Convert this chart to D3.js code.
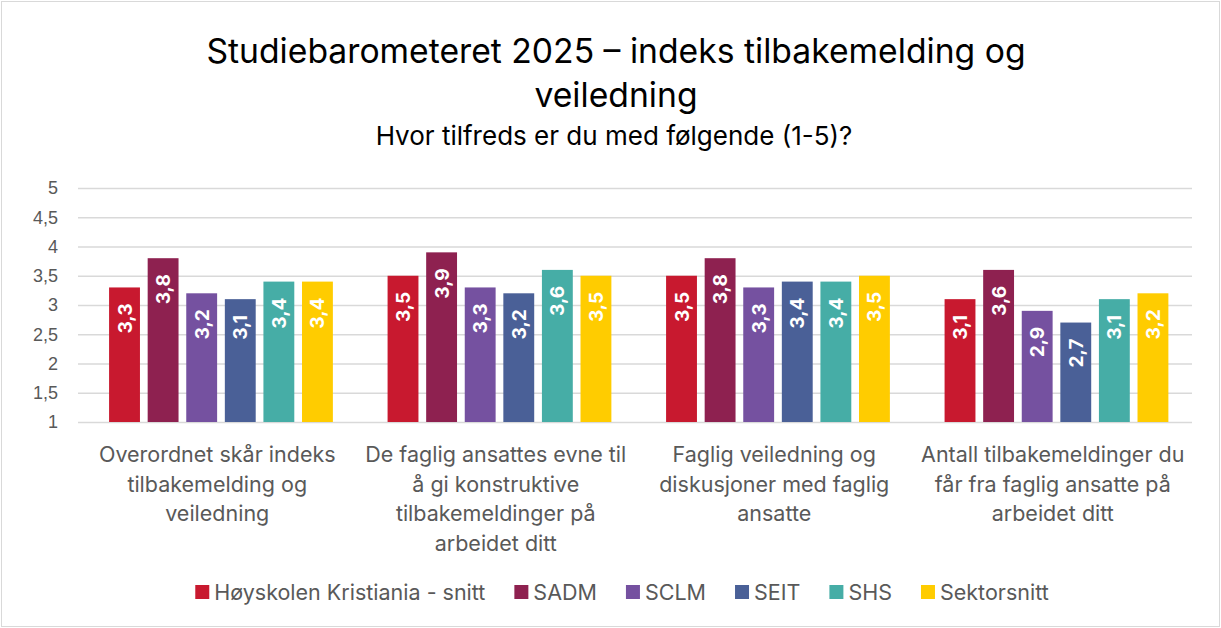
<!DOCTYPE html>
<html lang="no">
<head>
<meta charset="UTF-8">
<title>Studiebarometeret 2025</title>
<script src="https://d3js.org/d3.v7.min.js"></script>
<style>
    body { margin: 0; background: #fff; }
    svg { font-family: Inter, "Noto Sans", Arial, sans-serif; }
    .tick text { fill: #595959; font-size: 18px; }
</style>
</head>
<body>
<svg id="chart" width="1221" height="628"></svg>
<script>
    // data
    const categories = [
        ["Overordnet skår indeks", "tilbakemelding og", "veiledning"],
        ["De faglig ansattes evne til", "å gi konstruktive", "tilbakemeldinger på", "arbeidet ditt"],
        ["Faglig veiledning og", "diskusjoner med faglig", "ansatte"],
        ["Antall tilbakemeldinger du", "får fra faglig ansatte på", "arbeidet ditt"]
    ];
    const seriesNames = ["Høyskolen Kristiania - snitt", "SADM", "SCLM", "SEIT", "SHS", "Sektorsnitt"];
    const seriesColors = ["#C8192F", "#8E2150", "#7551A0", "#4A6097", "#46ADA6", "#FFCC00"];
    const hkSnitt = [3.3, 3.5, 3.5, 3.1];
    const sadm = [3.8, 3.9, 3.8, 3.6];
    const sclm = [3.2, 3.3, 3.3, 2.9];
    const seit = [3.1, 3.2, 3.4, 2.7];
    const shs = [3.4, 3.6, 3.4, 3.1];
    const sektor = [3.4, 3.5, 3.5, 3.2];
    const yTicks = [1, 1.5, 2, 2.5, 3, 3.5, 4, 4.5, 5];

    const seriesValues = [hkSnitt, sadm, sclm, seit, shs, sektor];
    const fmt = v => String(v).replace(".", ",");

    const svg = d3.select("#chart");
    const W = 1221, H = 628;

    // border
    svg.append("rect")
        .attr("x", 1.5).attr("y", 1.5)
        .attr("width", W - 3).attr("height", H - 3)
        .attr("fill", "#fff").attr("stroke", "#D9D9D9").attr("stroke-width", 1);

    // titles
    svg.append("text").attr("x", 616).attr("y", 63)
        .attr("text-anchor", "middle").attr("font-size", 33.7).attr("fill", "#000")
        .text("Studiebarometeret 2025 – indeks tilbakemelding og");
    svg.append("text").attr("x", 616).attr("y", 107)
        .attr("text-anchor", "middle").attr("font-size", 33.7).attr("fill", "#000")
        .text("veiledning");
    svg.append("text").attr("x", 614).attr("y", 145)
        .attr("text-anchor", "middle").attr("font-size", 26).attr("fill", "#000")
        .text("Hvor tilfreds er du med følgende (1-5)?");

    const plotL = 78, plotR = 1192, plotT = 188, plotB = 422;

    const x = d3.scaleBand()
        .domain(d3.range(categories.length))
        .range([plotL, plotR]);

    const xs = d3.scaleBand()
        .domain(d3.range(seriesNames.length))
        .range([0, 6 * 37.3])
        .paddingInner(0.2);

    const y = d3.scaleLinear()
        .domain([1, 5])
        .range([plotB, plotT]);

    // grid + y axis
    const yAxis = svg.append("g")
        .attr("transform", `translate(${plotL},0)`)
        .call(d3.axisLeft(y).tickValues(yTicks).tickSize(-(plotR - plotL)).tickPadding(20).tickFormat(fmt));
    yAxis.select(".domain").remove();
    yAxis.selectAll(".tick line").attr("stroke", "#D9D9D9").attr("stroke-width", 1.5);

    // bars
    const groupW = 6 * 37.3 - 37.3 * 0.2;
    const groups = svg.selectAll(".grp")
        .data(categories)
        .enter().append("g")
        .attr("transform", (d, i) => `translate(${x(i) + (x.bandwidth() - groupW) / 2},0)`);

    groups.each(function (c, ci) {
        const g = d3.select(this);
        seriesValues.forEach((vals, si) => {
            const v = vals[ci];
            g.append("rect")
                .attr("x", xs(si))
                .attr("y", y(v))
                .attr("width", xs.bandwidth())
                .attr("height", y(1) - y(v))
                .attr("fill", seriesColors[si]);
            g.append("text")
                .attr("transform", `translate(${xs(si) + xs.bandwidth() / 2 + 7},${y(v) + 16}) rotate(-90)`)
                .attr("text-anchor", "end")
                .attr("font-size", 19).attr("font-weight", "bold").attr("fill", "#fff")
                .text(fmt(v));
        });
        // category label
        const t = g.append("text")
            .attr("text-anchor", "middle")
            .attr("font-size", 21.5).attr("fill", "#595959");
        c.forEach((line, li) => {
            t.append("tspan")
                .attr("x", groupW / 2)
                .attr("y", 462 + li * 29.5)
                .text(line);
        });
    });

    // legend
    const legend = svg.append("g");
    let lx = 0;
    seriesNames.forEach((name, i) => {
        const item = legend.append("g").attr("transform", `translate(${lx},0)`);
        item.append("rect").attr("x", 0).attr("y", 585).attr("width", 14).attr("height", 14)
            .attr("fill", seriesColors[i]);
        const tx = item.append("text").attr("x", 19).attr("y", 600)
            .attr("font-size", 21.5).attr("fill", "#595959").text(name);
        lx += 19 + tx.node().getComputedTextLength() + 29;
    });
    const lw = lx - 29;
    legend.attr("transform", `translate(${(190 + 1054) / 2 - lw / 2},0)`);
</script>
</body>
</html>
